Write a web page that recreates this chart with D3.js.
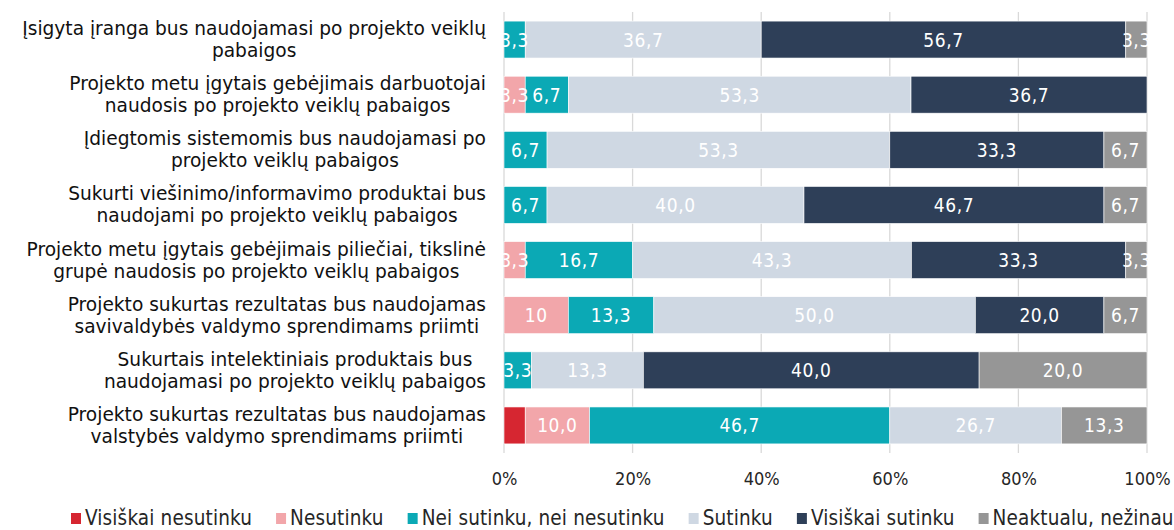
<!DOCTYPE html>
<html lang="lt">
<head>
<meta charset="utf-8">
<script src="https://cdn.jsdelivr.net/npm/d3@7"></script>
<style>
  html, body { margin: 0; padding: 0; background: #fff; }
  svg { display: block; }
</style>
</head>
<body>
<svg id="chart" width="1174" height="530"></svg>
<script>
// Statements (one per bar), each split into its printed lines
const statements = [
  ["Įsigyta įranga bus naudojamasi po projekto veiklų", "pabaigos"],
  ["Projekto metu įgytais gebėjimais darbuotojai", "naudosis po projekto veiklų pabaigos"],
  ["Įdiegtomis sistemomis bus naudojamasi po", "projekto veiklų pabaigos"],
  ["Sukurti viešinimo/informavimo produktai bus", "naudojami po projekto veiklų pabaigos"],
  ["Projekto metu įgytais gebėjimais piliečiai, tikslinė", "grupė naudosis po projekto veiklų pabaigos"],
  ["Projekto sukurtas rezultatas bus naudojamas", "savivaldybės valdymo sprendimams priimti"],
  ["Sukurtais intelektiniais produktais bus", "naudojamasi po projekto veiklų pabaigos"],
  ["Projekto sukurtas rezultatas bus naudojamas", "valstybės valdymo sprendimams priimti"]
];

// Answer shares (%), written as the data labels print them ("" = no answers)
const visiskaiNesutinku = ["", "", "", "", "", "", "", "3,3"];
const nesutinku         = ["", "3,3", "", "", "3,3", "10", "", "10,0"];
const neiSutinku        = ["3,3", "6,7", "6,7", "6,7", "16,7", "13,3", "3,3", "46,7"];
const sutinku           = ["36,7", "53,3", "53,3", "40,0", "43,3", "50,0", "13,3", "26,7"];
const visiskaiSutinku   = ["56,7", "36,7", "33,3", "46,7", "33,3", "20,0", "40,0", ""];
const neaktualu         = ["3,3", "", "6,7", "6,7", "3,3", "6,7", "20,0", "13,3"];

const seriesNames = ["Visiškai nesutinku", "Nesutinku", "Nei sutinku, nei nesutinku",
                     "Sutinku", "Visiškai sutinku", "Neaktualu, nežinau"];
const seriesValues = [visiskaiNesutinku, nesutinku, neiSutinku, sutinku, visiskaiSutinku, neaktualu];
const seriesColors = ["#d62631", "#f2a6aa", "#0ba9b5", "#cfd8e3", "#2e3f58", "#969696"];
const seriesLabelled = [false, true, true, true, true, true];

const xTicks = [0, 0.2, 0.4, 0.6, 0.8, 1];

const parse = s => s === "" ? 0 : +s.replace(",", ".");

// One row object per statement, keyed by series name
const rows = statements.map((lines, i) => {
  const r = { idx: i };
  seriesNames.forEach((name, k) => { r[name] = parse(seriesValues[k][i]); });
  return r;
});

const stacked = d3.stack()
  .keys(seriesNames)
  .offset(d3.stackOffsetExpand)(rows);

const svg = d3.select("#chart");
const condensed = "'DejaVu Sans Condensed', 'DejaVu Sans', sans-serif";
const regular = "'DejaVu Sans', Verdana, sans-serif";

const x = d3.scaleLinear().domain([0, 1]).range([504, 1147]);
const y = d3.scaleBand()
  .domain(d3.range(statements.length))
  .range([12, 453])
  .paddingInner(0.33)
  .paddingOuter(0.165);

// Vertical gridlines
svg.append("g")
  .selectAll("line")
  .data(xTicks)
  .join("line")
  .attr("x1", d => x(d)).attr("x2", d => x(d))
  .attr("y1", 12).attr("y2", 453)
  .attr("stroke", "#d9d9d9")
  .attr("stroke-width", 1.3);

// Stacked segments
const layer = svg.append("g")
  .selectAll("g")
  .data(stacked)
  .join("g")
  .attr("fill", (d, k) => seriesColors[k]);

layer.selectAll("rect")
  .data(d => d)
  .join("rect")
  .attr("x", d => x(d[0]))
  .attr("width", d => Math.max(0, x(d[1]) - x(d[0])))
  .attr("y", d => y(d.data.idx))
  .attr("height", y.bandwidth())
  .attr("stroke", "#ffffff")
  .attr("stroke-width", 0.6);

// Data labels in the middle of each segment
const labelData = [];
stacked.forEach((s, k) => {
  if (!seriesLabelled[k]) return;
  s.forEach(d => {
    const txt = seriesValues[k][d.data.idx];
    if (txt !== "") labelData.push({ d, txt });
  });
});

svg.append("g")
  .selectAll("text")
  .data(labelData)
  .join("text")
  .attr("x", o => x((o.d[0] + o.d[1]) / 2))
  .attr("y", o => y(o.d.data.idx) + y.bandwidth() / 2)
  .attr("text-anchor", "middle")
  .attr("dominant-baseline", "central")
  .attr("fill", "#ffffff")
  .style("font-family", condensed)
  .style("font-size", "19px")
  .style("letter-spacing", "0.6px")
  .text(o => o.txt);

// Percent axis
const xAxis = svg.append("g")
  .attr("transform", "translate(0,472)")
  .call(d3.axisBottom(x).tickValues(xTicks).tickFormat(d3.format(".0%")).tickSize(0).tickPadding(0));
xAxis.select(".domain").remove();
xAxis.selectAll("text")
  .attr("dy", "0.71em")
  .attr("fill", "#262626")
  .style("font-family", condensed)
  .style("font-size", "18px");

// Statement labels: lines centred on each other, block right-aligned to the plot
const labelRight = 486;
const lineGap = 22;
const catG = svg.append("g");
statements.forEach((lines, i) => {
  const cy = y(i) + y.bandwidth() / 2;
  const g = catG.append("g");
  const texts = lines.map((ln, j) => g.append("text")
    .attr("y", cy + (j - (lines.length - 1) / 2) * lineGap)
    .attr("dominant-baseline", "central")
    .attr("text-anchor", "middle")
    .attr("fill", "#111111")
    .style("font-family", regular)
    .style("font-size", "18.6px")
    .text(ln));
  const maxW = d3.max(texts, t => t.node().getComputedTextLength());
  texts.forEach(t => t.attr("x", labelRight - maxW / 2));
});

// Legend
const legend = svg.append("g").attr("transform", "translate(0,525)");
let lx = 71;
seriesNames.forEach((name, k) => {
  legend.append("rect")
    .attr("x", lx).attr("y", -12)
    .attr("width", 10).attr("height", 11)
    .attr("fill", seriesColors[k]);
  const t = legend.append("text")
    .attr("x", lx + 14)
    .attr("y", 0)
    .attr("fill", "#262626")
    .style("font-family", condensed)
    .style("font-size", "20.5px")
    .style("letter-spacing", "0.15px")
    .text(name);
  lx += 14 + t.node().getComputedTextLength() + 24;
});
</script>
</body>
</html>
